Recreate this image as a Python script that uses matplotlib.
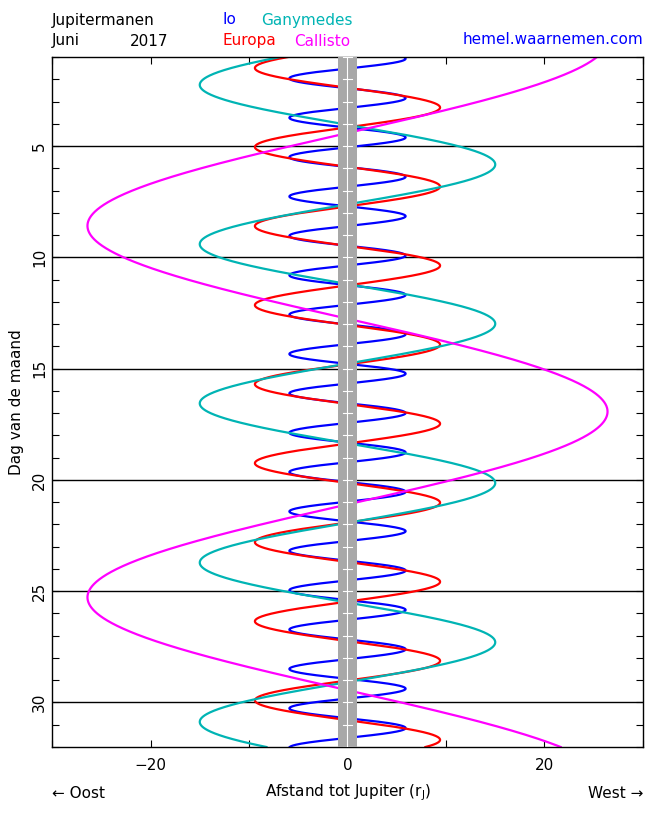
import numpy as np
import matplotlib
matplotlib.use("Agg")
import matplotlib.pyplot as plt
from matplotlib.ticker import MultipleLocator

# ---- data ----
moons = ["Io", "Europa", "Ganymedes", "Callisto"]
colors = ["#0000ff", "#ff0000", "#00b4b4", "#ff00ff"]
amplitudes = [5.9, 9.4, 15.0, 26.4]          # max elongation (r_J)
periods = [1.769, 3.551, 7.155, 16.69]       # days
west_elongation = [1.075, 3.27, 5.83, 16.93]  # day of a western elongation
day_start, day_end = 1.0, 32.0
grid_days = [5, 10, 15, 20, 25, 30]
x_ticklabels = [-20, 0, 20]

fig = plt.figure(figsize=(6.5, 8.13), dpi=100)
ax = fig.add_axes([52 / 650, 1 - 747 / 813, 591 / 650, 690 / 813])

t = np.linspace(day_start, day_end, 6000)
for name, c, a, p, t0 in zip(moons, colors, amplitudes, periods, west_elongation):
    x = a * np.cos(2 * np.pi * (t - t0) / p)
    ax.plot(x, t, color=c, lw=1.6, zorder=2)

for d in grid_days:
    ax.axhline(d, color="black", lw=1.0, zorder=1)

# Jupiter band
ax.axvspan(-1, 1, color="#a8a8a8", zorder=3, lw=0)
ax.plot([0, 0], [day_start, day_end], color="white", lw=0.8, zorder=4)
for d in range(int(day_start), int(day_end) + 1):
    ax.plot([-0.5, 0.5], [d, d], color="white", lw=0.8, zorder=4)

ax.set_xlim(-30, 30)
ax.set_ylim(day_end, day_start)

ax.xaxis.set_major_locator(MultipleLocator(10))
ax.set_xticks([-30, -20, -10, 0, 10, 20, 30])
ax.set_xticklabels(["" if v not in x_ticklabels else ("\u221220" if v == -20 else str(v))
                    for v in [-30, -20, -10, 0, 10, 20, 30]])
ax.yaxis.set_major_locator(MultipleLocator(5))
ax.yaxis.set_minor_locator(MultipleLocator(1))
ax.tick_params(axis="both", which="both", direction="in", top=True, right=True,
               length=5, width=0.8, labelsize=11)
ax.tick_params(axis="x", pad=8)
for lab in ax.get_yticklabels():
    lab.set_rotation(90)
    lab.set_va("center")
for s in ax.spines.values():
    s.set_linewidth(1.0)

ax.set_ylabel("Dag van de maand", fontsize=11, labelpad=6)

fs = 11
fig.text(52 / 650, 1 - 20 / 813, "Jupitermanen", fontsize=fs, va="center", ha="left")
fig.text(52 / 650, 1 - 41 / 813, "Juni", fontsize=fs, va="center", ha="left")
fig.text(130 / 650, 1 - 41 / 813, "2017", fontsize=fs, va="center", ha="left")
fig.text(223 / 650, 1 - 20 / 813, "Io", fontsize=fs, va="center", ha="left", color=colors[0])
fig.text(261 / 650, 1 - 20 / 813, "Ganymedes", fontsize=fs, va="center", ha="left", color=colors[2])
fig.text(223 / 650, 1 - 41 / 813, "Europa", fontsize=fs, va="center", ha="left", color=colors[1])
fig.text(294 / 650, 1 - 41 / 813, "Callisto", fontsize=fs, va="center", ha="left", color=colors[3])
fig.text(643 / 650, 1 - 39 / 813, "hemel.waarnemen.com", fontsize=fs, va="center", ha="right", color="#0000ff")

fig.text(52 / 650, 1 - 793 / 813, "\u2190 Oost", fontsize=fs, va="center", ha="left")
fig.text(348 / 650, 1 - 793 / 813, "Afstand tot Jupiter (r$_\\mathregular{J}$)", fontsize=fs, va="center", ha="center")
fig.text(643 / 650, 1 - 793 / 813, "West \u2192", fontsize=fs, va="center", ha="right")

fig.savefig("out.png", dpi=100)
